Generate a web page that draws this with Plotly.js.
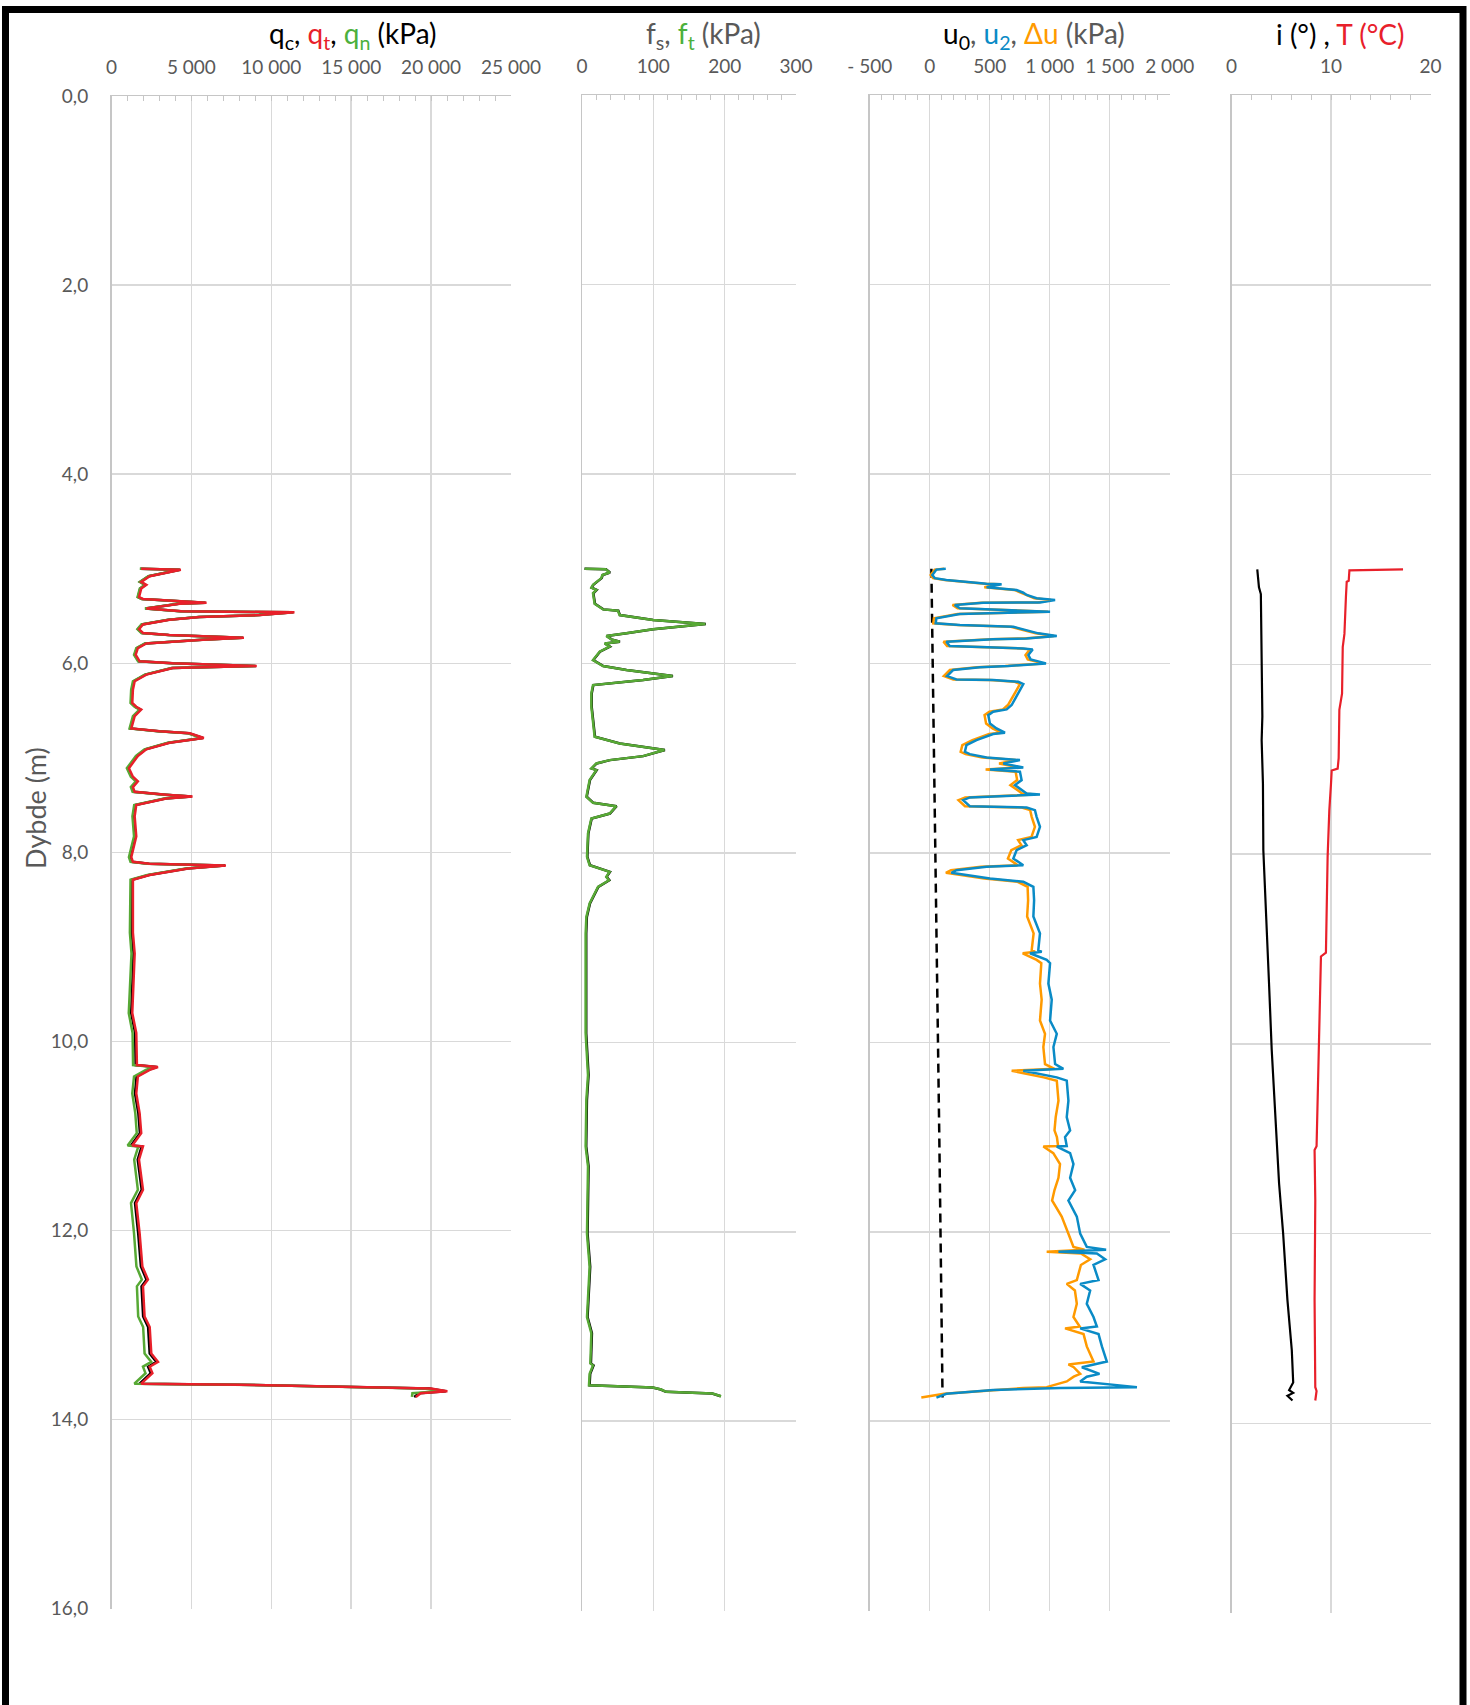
<!DOCTYPE html>
<html>
<head>
<meta charset="utf-8">
<script src="https://cdn.plot.ly/plotly-3.0.1.min.js"></script>
<style>html,body{margin:0;padding:0;background:#fff;}#chart{width:1470px;height:1705px;}</style>
</head>
<body>
<div id="chart"></div>
<script>
// ---------- Panel 1: cone resistance (kPa) ----------
const depthQ = [5.00,5.01,5.08,5.14,5.17,5.21,5.30,5.32,5.36,5.37,5.42,5.45,5.46,5.49,5.51,5.54,5.59,5.64,5.68,5.70,5.73,5.75,5.79,5.84,5.91,5.98,6.00,6.03,6.05,6.12,6.19,6.28,6.42,6.46,6.49,6.56,6.69,6.72,6.74,6.79,6.84,6.91,6.98,7.11,7.20,7.25,7.31,7.36,7.39,7.41,7.43,7.50,7.62,7.83,8.05,8.10,8.12,8.14,8.17,8.24,8.29,8.50,8.85,9.07,9.70,9.91,10.25,10.27,10.30,10.37,10.55,10.76,10.97,11.10,11.11,11.25,11.57,11.71,12.03,12.38,12.52,12.59,12.91,13.02,13.30,13.39,13.44,13.51,13.60,13.62,13.63,13.65,13.67,13.70,13.72,13.76];
const qt = [1860,4340,2390,1860,2180,1860,1720,1970,5950,4270,2180,4380,11450,9300,5530,3640,1970,1720,1970,3640,8290,5740,2180,1650,1510,1760,3850,9090,3850,2180,1450,1340,1300,1550,1860,1450,1240,3020,4900,5780,3640,2180,1650,1090,1340,1650,1340,1450,3430,5070,3430,1550,1450,1550,1240,1340,2390,7160,4800,2390,1340,1340,1340,1450,1300,1550,1590,2910,2390,1650,1550,1760,1860,1300,1970,1720,1970,1550,1760,1930,2280,1970,2070,2390,2490,2910,2390,2560,1970,1860,8040,13900,19980,21020,19350,19040];
const qc = [1800,4280,2330,1800,2120,1800,1660,1910,5890,4210,2120,4320,11390,9240,5470,3580,1910,1660,1910,3580,8230,5680,2120,1590,1450,1700,3790,9030,3790,2120,1390,1280,1240,1490,1800,1390,1180,2960,4840,5720,3580,2120,1590,1030,1280,1590,1280,1390,3370,5010,3370,1490,1390,1490,1180,1280,2330,7100,4740,2330,1280,1270,1270,1380,1230,1480,1510,2830,2310,1570,1470,1680,1780,1220,1890,1640,1890,1470,1670,1840,2190,1880,1980,2290,2390,2810,2290,2460,1870,1760,7940,13800,19880,20920,19250,18940];
const qn = [1770,4250,2300,1770,2090,1770,1630,1880,5860,4180,2090,4290,11360,9200,5430,3540,1870,1620,1870,3540,8190,5640,2080,1550,1410,1660,3750,8990,3750,2080,1340,1230,1190,1440,1750,1340,1130,2900,4780,5660,3520,2060,1530,960,1210,1520,1210,1320,3300,4940,3300,1420,1310,1410,1090,1190,2240,7010,4650,2240,1190,1170,1150,1250,1080,1320,1350,2670,2150,1410,1300,1490,1580,1010,1680,1420,1650,1220,1410,1560,1900,1590,1670,1980,2070,2490,1970,2130,1540,1430,7610,13470,19540,20580,18830,18800];

// ---------- Panel 2: sleeve friction (kPa) ----------
const depthF = [5.000,5.005,5.04,5.067,5.10,5.17,5.20,5.225,5.26,5.37,5.43,5.444,5.49,5.542,5.585,5.606,5.64,5.683,5.711,5.746,5.771,5.789,5.824,5.877,5.965,6.028,6.07,6.134,6.176,6.229,6.317,6.458,6.634,6.775,6.845,6.915,6.979,7.021,7.056,7.109,7.127,7.232,7.408,7.472,7.507,7.585,7.637,7.796,8.042,8.13,8.20,8.254,8.289,8.359,8.535,8.676,8.85,9.03,9.905,10.345,10.61,11.10,11.31,12.02,12.37,12.90,13.07,13.39,13.41,13.50,13.62,13.644,13.665,13.69,13.708,13.736];
const ft = [3.7,33,38.7,28.5,27.1,15.4,13.1,20.1,15.4,17.7,29.4,50.4,52.7,99.4,173,146,99.4,62,34,41,52.7,31.7,38.7,24.7,15.4,29.4,62,127,85.4,15.4,13.1,13.1,15.4,17.7,52.7,115.7,85.4,38.7,20.1,13.1,20.1,10.7,6.1,15.4,48,38.7,13.1,8.4,7.0,10.7,38.7,34,37.8,22.4,10.7,6.1,5.1,5.1,5.1,8.4,6.1,5.1,8.4,7.0,10.7,7.0,13.1,11.7,15.4,10.7,9.8,99.4,111,118,183,195];
const fs = [3.5,33.5,39.2,29,27.6,15.9,13.5,20.6,15.9,18.2,29.9,50.9,53.2,99.9,173.5,146.5,99.9,62.5,34.5,41.5,53.2,32.2,39.2,25.2,15.9,29.9,62.5,127.5,85.9,15.9,13.6,13.6,15.9,18.2,53.2,116.2,85.9,39.2,20.6,13.6,20.6,11.2,6.6,15.9,48.5,39.2,13.6,8.9,7.5,11.2,39.2,34.5,38.3,22.9,11.2,6.8,5.9,5.9,5.9,9.2,6.9,5.9,9.2,7.8,11.5,7.8,13.9,12.5,16.2,11.5,10.6,99,110.5,117.5,182.5,194.5];

// ---------- Panel 3: pore pressure (kPa) ----------
const depthU = [5.000,5.010,5.067,5.100,5.120,5.148,5.160,5.165,5.197,5.225,5.254,5.278,5.313,5.331,5.356,5.359,5.384,5.419,5.437,5.454,5.479,5.525,5.577,5.595,5.613,5.648,5.683,5.711,5.736,5.746,5.771,5.817,5.831,5.842,5.852,5.912,5.958,6.000,6.028,6.042,6.070,6.134,6.169,6.176,6.194,6.218,6.282,6.352,6.440,6.486,6.511,6.546,6.634,6.687,6.732,6.746,6.775,6.810,6.863,6.933,6.958,6.993,7.021,7.056,7.099,7.120,7.144,7.232,7.285,7.373,7.384,7.415,7.444,7.507,7.521,7.549,7.620,7.725,7.831,7.866,7.919,7.972,8.060,8.130,8.148,8.183,8.211,8.271,8.306,8.359,8.500,8.672,8.850,9.025,9.045,9.060,9.130,9.165,9.380,9.550,9.770,9.910,10.050,10.230,10.280,10.300,10.370,10.405,10.616,10.790,10.930,11.000,11.095,11.100,11.170,11.285,11.430,11.560,11.670,11.840,12.020,12.160,12.190,12.210,12.230,12.290,12.350,12.510,12.550,12.620,12.760,12.900,13.000,13.020,13.080,13.210,13.370,13.400,13.430,13.500,13.530,13.580,13.640,13.650,13.670,13.710,13.750];
const u2 = [134,56,22,42,139,362,474,599,474,724,780,808,891,1045,919,446,209,251,697,1003,251,56,50,251,697,808,905,1059,808,529,139,167,529,780,858,822,841,969,655,418,195,145,223,529,738,780,752,724,683,641,529,488,502,557,627,529,460,390,306,293,334,474,752,613,780,502,752,766,710,808,919,334,279,334,808,877,891,919,891,780,808,724,697,780,474,223,181,502,780,864,870,864,919,905,933,836,975,1003,989,1017,1003,1059,1031,1045,1114,780,1059,1142,1156,1142,1170,1128,1142,1059,1170,1198,1170,1212,1156,1226,1254,1309,1470,1073,1393,1462,1365,1407,1254,1337,1309,1365,1393,1254,1407,1435,1476,1365,1268,1415,1309,1254,1727,1086,529,139,56];
const du = [120,42,8,28,125,348,458,580,455,705,760,790,872,1010,900,430,190,232,678,985,232,35,30,230,676,787,884,1035,786,507,115,145,506,757,835,798,817,944,630,393,168,118,196,502,710,752,724,695,652,610,498,457,470,524,594,495,426,356,272,258,299,439,717,578,745,466,716,729,673,770,881,296,240,294,768,837,850,877,848,737,764,680,652,734,428,177,135,455,733,816,820,812,866,850,878,775,891,930,919,933,919,961,947,961,1040,683,950,1059,1073,1050,1040,1060,1070,947,1030,1086,1073,1040,1020,1100,1156,1198,1290,975,1260,1337,1260,1226,1142,1210,1226,1198,1250,1128,1282,1309,1365,1156,1200,1254,1200,1142,975,780,560,120,-70];
const depthU0 = [5.00,5.50,6.00,6.50,7.00,7.50,8.00,8.50,9.00,10.00,11.00,12.00,13.00,13.75];
const u0 = [14,20,26,32,37,43,48,54,59,70,80,90,99,107];

// ---------- Panel 4: inclination (deg) and temperature (degC) ----------
const depthI = [5.00,5.10,5.19,5.26,5.60,5.99,6.55,6.80,7.26,7.96,8.48,9.36,10.06,10.77,11.47,12.00,12.70,13.23,13.57,13.65,13.68,13.71,13.76];
const incl = [2.59,2.66,2.76,2.95,3.00,3.03,3.10,3.03,3.16,3.20,3.43,3.77,4.04,4.44,4.78,5.19,5.62,6.06,6.20,5.79,6.20,5.62,6.13];
const depthT = [5.00,5.01,5.12,5.13,5.29,5.68,5.82,6.31,6.48,6.99,7.10,7.12,7.26,7.54,8.03,8.48,9.04,9.08,9.61,10.17,10.66,11.08,11.12,11.65,12.70,13.62,13.66,13.76];
const temp = [17.24,11.85,11.78,11.58,11.50,11.35,11.18,11.11,10.84,10.77,10.67,10.07,10.00,9.83,9.66,9.56,9.49,8.99,8.89,8.75,8.65,8.55,8.35,8.42,8.35,8.42,8.55,8.42];

// ---------- Tick labels ----------
const depthTicks = [0,2,4,6,8,10,12,14,16];
const depthTickText = ['0,0','2,0','4,0','6,0','8,0','10,0','12,0','14,0','16,0'];
const qTicks = [0,5000,10000,15000,20000,25000];
const qTickText = ['0','5 000','10 000','15 000','20 000','25 000'];
const fTicks = [0,100,200,300];
const fTickText = ['0','100','200','300'];
const uTicks = [-500,0,500,1000,1500,2000];
const uTickText = ['- 500','0','500','1 000','1 500','2 000'];
const itTicks = [0,10,20];
const itTickText = ['0','10','20'];

const RED = '#E8202A', GREEN = '#57A935', BLUE = '#0A8BC6', ORANGE = '#FF9A00', GRAY = '#595959';
const FONT = 'Lato, "Open Sans", sans-serif';
const W = 1470, H = 1705;
const px = v => v / W, py = v => 1 - v / H;

const traces = [
  {x: qc, y: depthQ, xaxis: 'x', yaxis: 'y', mode: 'lines', line: {color: '#000000', width: 2.5}},
  {x: qn, y: depthQ, xaxis: 'x', yaxis: 'y', mode: 'lines', line: {color: GREEN, width: 2.5}},
  {x: qt, y: depthQ, xaxis: 'x', yaxis: 'y', mode: 'lines', line: {color: RED, width: 2.5}},
  {x: fs, y: depthF, xaxis: 'x2', yaxis: 'y2', mode: 'lines', line: {color: '#000000', width: 2.5}},
  {x: ft, y: depthF, xaxis: 'x2', yaxis: 'y2', mode: 'lines', line: {color: GREEN, width: 2.5}},
  {x: u0, y: depthU0, xaxis: 'x3', yaxis: 'y3', mode: 'lines', line: {color: '#000000', width: 2.5, dash: '9px,6px'}},
  {x: du, y: depthU, xaxis: 'x3', yaxis: 'y3', mode: 'lines', line: {color: ORANGE, width: 2.5}},
  {x: u2, y: depthU, xaxis: 'x3', yaxis: 'y3', mode: 'lines', line: {color: BLUE, width: 2.5}},
  {x: incl, y: depthI, xaxis: 'x4', yaxis: 'y4', mode: 'lines', line: {color: '#000000', width: 2.2}},
  {x: temp, y: depthT, xaxis: 'x4', yaxis: 'y4', mode: 'lines', line: {color: RED, width: 2.2}}
];

function xAx(domain, range, tv, tt, minorDt, anchor) {
  return {
    domain: domain, range: range, side: 'top', anchor: anchor,
    tickmode: 'array', tickvals: tv, ticktext: tt,
    showgrid: true, gridcolor: '#d9d9d9', gridwidth: 1.5,
    zeroline: false, showline: true, linecolor: '#c6c6c6', linewidth: 1.5,
    ticks: 'inside', ticklen: 5, tickcolor: '#c6c6c6', tickwidth: 1,
    minor: {tickmode: 'linear', tick0: range[0], dtick: minorDt, ticks: 'inside', ticklen: 5, tickcolor: '#c6c6c6', tickwidth: 1, showgrid: false},
    tickfont: {family: FONT, size: 19, color: GRAY},
    ticklabelstandoff: 13, fixedrange: true
  };
}
function yAx(domain, labels, anchor) {
  return {
    domain: domain, range: [16, 0], anchor: anchor,
    tickmode: 'array', tickvals: depthTicks, ticktext: depthTickText,
    showticklabels: labels,
    showgrid: true, gridcolor: '#d9d9d9', gridwidth: 1.5,
    zeroline: false, showline: true, linecolor: '#c6c6c6', linewidth: 1.5,
    ticks: '', tickfont: {family: FONT, size: 19, color: GRAY},
    ticklabelstandoff: 18, fixedrange: true
  };
}

const TS = 28;
const titleFont = {family: FONT, size: TS, color: '#000000'};
const annotations = [
  {xref: 'paper', yref: 'paper', x: px(353), y: py(35), xanchor: 'center', yanchor: 'middle', showarrow: false, font: titleFont,
   text: 'q<sub>c</sub>, <span style="color:' + RED + '">q<sub>t</sub></span>, <span style="color:#4CB03C">q<sub>n</sub></span> (kPa)'},
  {xref: 'paper', yref: 'paper', x: px(703), y: py(35), xanchor: 'center', yanchor: 'middle', showarrow: false, font: {family: FONT, size: TS, color: GRAY},
   text: 'f<sub>s</sub>, <span style="color:#4CB03C">f<sub>t</sub></span> (kPa)'},
  {xref: 'paper', yref: 'paper', x: px(1034), y: py(35), xanchor: 'center', yanchor: 'middle', showarrow: false, font: {family: FONT, size: TS, color: GRAY},
   text: '<span style="color:#000000">u<sub>0</sub></span>, <span style="color:' + BLUE + '">u<sub>2</sub></span>, <span style="color:' + ORANGE + '">Δu</span> (kPa)'},
  {xref: 'paper', yref: 'paper', x: px(1340), y: py(34), xanchor: 'center', yanchor: 'middle', showarrow: false, font: titleFont,
   text: 'i (°) , <span style="color:' + RED + '">T (°C)</span>'},
  {xref: 'paper', yref: 'paper', x: px(35), y: py(808), xanchor: 'center', yanchor: 'middle', showarrow: false, textangle: -90,
   font: {family: FONT, size: 27, color: GRAY}, text: 'Dybde (m)'}
];

const layout = {
  width: W, height: H,
  margin: {l: 0, r: 0, t: 0, b: 0},
  paper_bgcolor: '#ffffff', plot_bgcolor: '#ffffff',
  showlegend: false,
  xaxis: xAx([px(111.5), px(511)], [0, 25000], qTicks, qTickText, 1000, 'y'),
  yaxis: yAx([1 - 1608.7 / H, 1 - 96 / H], true, 'x'),
  xaxis2: xAx([px(582), px(796)], [0, 300], fTicks, fTickText, 20, 'y2'),
  yaxis2: yAx([1 - 1610.7 / H, 1 - 95 / H], false, 'x2'),
  xaxis3: xAx([px(869.7), px(1169.7)], [-500, 2000], uTicks, uTickText, 100, 'y3'),
  yaxis3: yAx([1 - 1610.7 / H, 1 - 95 / H], false, 'x3'),
  xaxis4: xAx([px(1231.5), px(1430.5)], [0, 20], itTicks, itTickText, 2, 'y4'),
  yaxis4: yAx([1 - 1613 / H, 1 - 95 / H], false, 'x4'),
  annotations: annotations,
  shapes: [
    {type: 'rect', xref: 'paper', yref: 'paper', x0: px(5.5), x1: px(1463), y0: -0.02, y1: py(9.5),
     line: {color: '#000000', width: 7}, fillcolor: 'rgba(0,0,0,0)', layer: 'above'}
  ]
};

Plotly.newPlot('chart', traces, layout, {staticPlot: true, displayModeBar: false});
</script>
</body>
</html>
